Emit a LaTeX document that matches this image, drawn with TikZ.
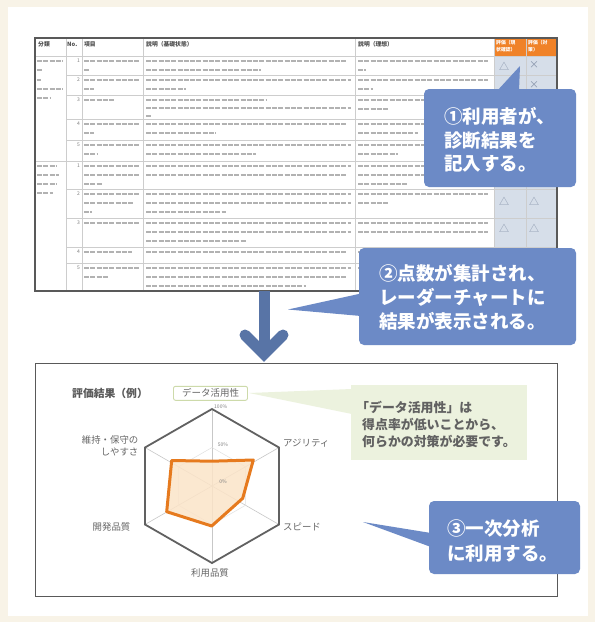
\documentclass[tikz,border=0pt]{standalone}
\usepackage{fontspec}
\usetikzlibrary{calc}
\setmainfont{Noto Sans CJK JP}
\newfontfamily\jp{Noto Sans CJK JP}
\definecolor{cream}{HTML}{F8F3E7}
\definecolor{callblue}{RGB}{108,138,198}
\definecolor{arrowblue}{RGB}{88,116,166}
\definecolor{hdrorange}{RGB}{240,130,40}
\definecolor{cellblue}{RGB}{214,222,233}
\definecolor{gridgray}{RGB}{205,205,205}
\definecolor{lgreen}{RGB}{236,242,222}
\definecolor{lgreenline}{RGB}{205,218,170}
\definecolor{radorange}{RGB}{230,122,30}
\definecolor{radfill}{RGB}{251,228,200}
\definecolor{markcol}{RGB}{135,148,170}
\newcommand\tb[3]{\draw[black!30, line width=2.4pt, dash pattern=on 5pt off 1.3pt] (#1,#2) -- ++(#3,0);}
\tikzset{
  calltext/.style={text=white, font=\jp\bfseries\fontsize{18.5}{22}\selectfont, anchor=west, inner sep=0},
  hdr/.style={font=\jp\bfseries\fontsize{5.8}{6}\selectfont, text=black!70, anchor=west, inner sep=0},
  ohdr/.style={font=\jp\bfseries\fontsize{4.8}{5}\selectfont, text=white, anchor=west, inner sep=0},
  numtxt/.style={font=\jp\fontsize{5}{5}\selectfont, text=black!50, anchor=east, inner sep=0},
  evalmark/.style={font=\jp\fontsize{10}{10}\selectfont, text=markcol, inner sep=0},
  axlab/.style={font=\jp\fontsize{9.4}{11}\selectfont, text=black!60, inner sep=0},
  pct/.style={font=\jp\fontsize{5}{5}\selectfont, text=black!50, inner sep=0},
  greentxt/.style={font=\jp\bfseries\fontsize{12.9}{16}\selectfont, text=black!62, anchor=west, inner sep=0},
  gridline/.style={draw=gridgray, line width=0.5pt},
  callfill/.style={fill=callblue},
}
\begin{document}
\begin{tikzpicture}[x=1pt,y=-1pt]
\useasboundingbox (0,0) rectangle (595,622);
\fill[cream] (0,0) rectangle (595,622);
\fill[white] (8,7) rectangle (588,616);

% ---------- table ----------
\fill[hdrorange] (494,38) rectangle (557,56);
\fill[cellblue] (494,56) rectangle (557,291);
\foreach \y in {56,161} {\draw[gridline] (35,\y) -- (557,\y);}
\foreach \y in {75,95,119,140,189,218,247,263} {\draw[gridline] (66,\y) -- (557,\y);}
\foreach \x in {66,82,143,355,494,526} {\draw[gridline] (\x,38) -- (\x,291);}

\node[hdr] (h1) at (38,44) {分類};
\node[hdr] (h2) at (67,44) {No.};
\node[hdr] (h3) at (84,44) {項目};
\node[hdr] (h4) at (146,44) {説明（基礎状態）};
\node[hdr] (h5) at (358,44) {説明（理想）};
\node[ohdr] (o1) at (496,43) {評価（現};
\node[ohdr] (o2) at (496,50) {状確認）};
\node[ohdr] (o3) at (528,43) {評価（対};
\node[ohdr] (o4) at (528,50) {策）};

\foreach \n/\y in {1/61,2/80,3/100,4/124,5/145,1/166,2/194,3/223,4/252,5/268}
  {\node[numtxt] at (80,\y) {\n};}

\foreach \x/\y/\l in {37/61/26, 37/70/6, 37/80/4, 37/89/26, 37/98/14, 37/166/20, 37/175/22, 37/184/20, 37/193/16,
  84/61/56, 84/70/6, 84/80/56, 84/89/10, 84/100/30, 84/124/56, 84/133/10, 84/145/56, 84/154/14, 84/166/56, 84/175/56, 84/184/18, 84/194/56, 84/203/50, 84/212/8, 84/223/56, 84/252/48, 84/268/56, 84/277/24,
  146/61/200, 146/70/115, 146/80/205, 146/89/40, 146/100/120, 146/108/205, 146/116/6, 146/124/200, 146/133/70, 146/145/205, 146/154/110, 146/166/205, 146/175/200, 146/194/205, 146/203/205, 146/212/80, 146/223/205, 146/232/205, 146/241/100, 146/252/200, 146/268/205, 146/277/200, 146/286/160,
  358/61/130, 358/70/8, 358/80/130, 358/89/15, 358/100/100, 358/109/30, 358/124/80, 358/133/60, 358/145/130, 358/154/40, 358/166/130, 358/175/120, 358/184/50, 358/194/130, 358/203/30, 358/223/130, 358/232/130, 358/252/100, 358/268/130}
  {\tb{\x}{\y}{\l}}

\node[evalmark] (m1) at (504,66) {△};
\node[evalmark] (m2) at (534,65) {×};
\node[evalmark] (m3) at (534,85) {×};
\node[evalmark] (m4) at (504,201) {△};
\node[evalmark] (m5) at (534,201) {△};
\node[evalmark] (m6) at (504,228) {△};
\node[evalmark] (m7) at (534,228) {△};

\node[draw=black!65, line width=1.2pt, anchor=north west, minimum width=522pt, minimum height=253pt, inner sep=0, outer sep=0] (table) at (35,38) {};

% ---------- arrow ----------
\coordinate (arrtop) at (264,291);
\coordinate (arrbot) at (264,354);
\draw[arrowblue, line width=11pt] (arrtop) -- (264,350);
\draw[arrowblue, line width=11pt, line cap=round, line join=miter] (245,335) -- (arrbot) -- (283,335);

% ---------- chart box ----------
\node[draw=black!65, line width=1pt, anchor=north west, minimum width=522pt, minimum height=233pt, inner sep=0, outer sep=0] (chart) at (35,363) {};

\node[font=\jp\bfseries\fontsize{10.8}{11}\selectfont, text=black!65, anchor=west, inner sep=0] (title) at (72,393) {評価結果（例）};

% green comment
\fill[lgreen] (249,393) -- (352,389) -- (352,414) -- cycle;
\fill[lgreen] (351,385) rectangle (527,460);
\node[greentxt] (g1) at (356,407) {「データ活用性」は};
\node[greentxt] (g2) at (362,424) {得点率が低いことから、};
\node[greentxt] (g3) at (362,441) {何らかの対策が必要です。};
\node[draw=lgreenline, fill=white, rounded corners=2pt, line width=0.9pt, minimum width=74pt, minimum height=14pt, inner sep=0, font=\jp\fontsize{9.5}{10}\selectfont, text=black!60] (dlab) at (210.5,393.3) {データ活用性};

% radar
\coordinate (c) at (212,486);
\coordinate (vt) at (212,409);
\coordinate (vur) at (279,447.5);
\coordinate (vlr) at (279,524.5);
\coordinate (vb) at (212,563);
\coordinate (vll) at (145,524.5);
\coordinate (vul) at (145,447.5);
\foreach \v in {vt,vur,vlr,vb,vll,vul} {\draw[black!22, line width=0.6pt] (c) -- (\v);}
\draw[black!12, line width=0.5pt] ($(c)!0.5!(vt)$) -- ($(c)!0.5!(vur)$) -- ($(c)!0.5!(vlr)$) -- ($(c)!0.5!(vb)$) -- ($(c)!0.5!(vll)$) -- ($(c)!0.5!(vul)$) -- cycle;
\draw[fill=radfill, fill opacity=0.85, draw=radorange, line width=3pt, line join=round]
  (211.7,461.2) -- (253.3,460) -- (242.7,498.3) -- (211.7,526) -- (166.7,511.7) -- (171.7,460.5) -- cycle;
\draw[black!62, line width=1.8pt, line join=miter] (vt) -- (vur) -- (vlr) -- (vb) -- (vll) -- (vul) -- cycle;
\node[pct, anchor=west] (p100) at (214,407) {100\%};
\node[pct] (p50) at (223,445) {50\%};
\node[pct] (p0) at (223,481.7) {0\%};

\node[axlab, anchor=east] (l1) at (138.5,440) {維持・保守の};
\node[axlab, anchor=east] (l2) at (138.5,451.7) {しやすさ};
\node[axlab, anchor=west] (l3) at (283,443.5) {アジリティ};
\node[axlab, anchor=west] (l4) at (283,526.7) {スピード};
\node[axlab] (l5) at (210,573.3) {利用品質};
\node[axlab, anchor=east] (l6) at (130.5,526.7) {開発品質};

% ---------- callouts ----------
\fill[callfill] (497,91) -- (520,66) -- (519,91) -- cycle;
\fill[callfill, rounded corners=5pt] (424,89) rectangle (576,187);
\node[calltext] (c1a) at (444,116) {①利用者が、};
\node[calltext] (c1b) at (444,140) {診断結果を};
\node[calltext] (c1c) at (444,164) {記入する。};

\fill[callfill] (288,309.5) -- (361,293.5) -- (361,316) -- cycle;
\fill[callfill, rounded corners=5pt] (359,248) rectangle (576,345);
\node[calltext] (c2a) at (379,273) {②点数が集計され、};
\node[calltext] (c2b) at (379,297.5) {レーダーチャートに};
\node[calltext] (c2c) at (379,321) {結果が表示される。};

\fill[callfill] (363,522) -- (431,533) -- (431,547) -- cycle;
\fill[callfill, rounded corners=5pt] (429,501) rectangle (580,574);
\node[calltext] (c3a) at (447,529) {③一次分析};
\node[calltext] (c3b) at (447,554) {に利用する。};
\end{tikzpicture}
\end{document}
